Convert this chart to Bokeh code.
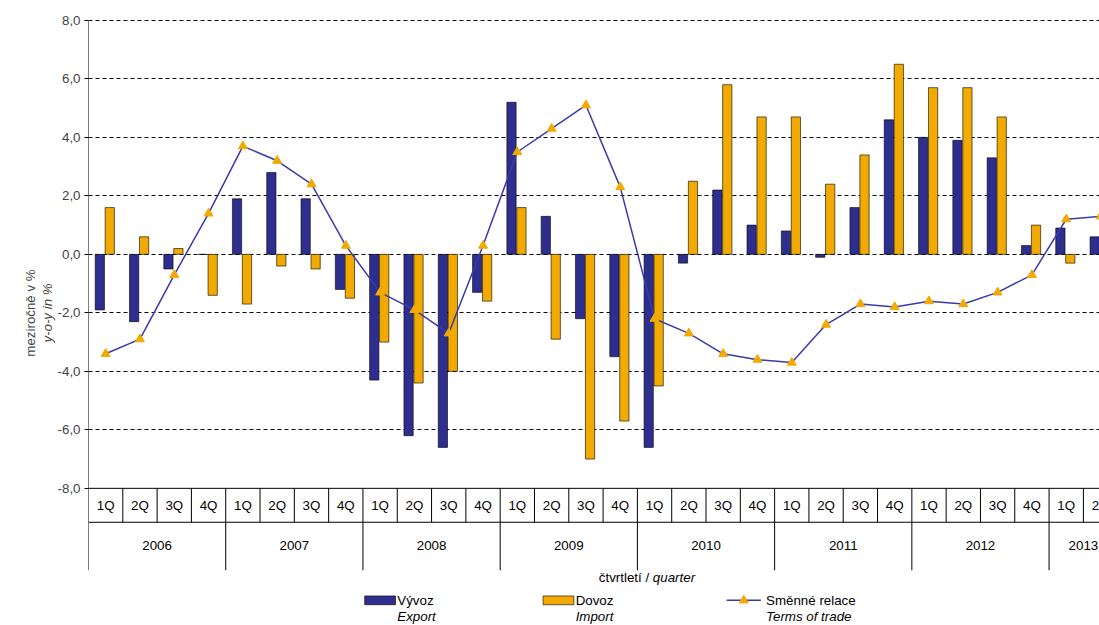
from bokeh.plotting import figure
from bokeh.models import FixedTicker, CustomJSTickFormatter, Title
from bokeh.core.properties import value
from bokeh.embed import file_html
from bokeh.resources import INLINE

years = ["2006", "2007", "2008", "2009", "2010", "2011", "2012", "2013"]
quarters = ["1Q", "2Q", "3Q", "4Q"]
export = [-1.9, -2.3, -0.5, 0.0, 1.9, 2.8, 1.9, -1.2, -4.3, -6.2, -6.6, -1.3,
          5.2, 1.3, -2.2, -3.5, -6.6, -0.3, 2.2, 1.0, 0.8, -0.1, 1.6, 4.6,
          4.0, 3.9, 3.3, 0.3, 0.9, 0.6]
imports = [1.6, 0.6, 0.2, -1.4, -1.7, -0.4, -0.5, -1.5, -3.0, -4.4, -4.0, -1.6,
           1.6, -2.9, -7.0, -5.7, -4.5, 2.5, 5.8, 4.7, 4.7, 2.4, 3.4, 6.5,
           5.7, 5.7, 4.7, 1.0, -0.3, -0.7]
terms = [-3.4, -2.9, -0.7, 1.4, 3.7, 3.2, 2.4, 0.3, -1.3, -1.9, -2.7, 0.3,
         3.5, 4.3, 5.1, 2.3, -2.2, -2.7, -3.4, -3.6, -3.7, -2.4, -1.7, -1.8,
         -1.6, -1.7, -1.3, -0.7, 1.2, 1.3]

NAVY = "#2E2E8F"
ORANGE = "#F2A900"
LINE = "#3A3AAA"
FONT = "Liberation Sans"
FS = "10pt"

n = len(export)
xs = [i + 0.5 for i in range(n)]
XMAX = 29.47

p = figure(width=1099, height=625, x_range=(0, XMAX), y_range=(-12.69, 8.68),
           output_backend="svg", toolbar_location=None, min_border=0,
           min_border_left=88, min_border_right=0, min_border_top=0, min_border_bottom=0)
p.outline_line_color = None
p.xaxis.visible = False
p.xgrid.visible = False
p.yaxis.ticker = FixedTicker(ticks=list(range(-8, 9, 2)))
p.yaxis.formatter = CustomJSTickFormatter(code="return tick.toFixed(1).replace('.', ',');")
p.yaxis.axis_line_color = None
p.yaxis.major_tick_line_color = "black"
p.yaxis.major_tick_in = 0
p.yaxis.major_tick_out = 4
p.yaxis.major_label_standoff = 4
p.yaxis.minor_tick_line_color = None
p.yaxis.major_label_text_font = FONT
p.yaxis.major_label_text_font_size = FS
p.ygrid.ticker = FixedTicker(ticks=list(range(-6, 9, 2)))
p.ygrid.grid_line_color = "black"
p.ygrid.grid_line_dash = "4 3"
p.add_layout(Title(text="y-o-y in %", text_font_style="italic", text_font=FONT,
                   text_font_size=FS, align="center", standoff=0), "left")
p.add_layout(Title(text="meziročně v %", text_font_style="normal", text_font=FONT,
                   text_font_size=FS, align="center", standoff=0), "left")

# bars
p.vbar(x=[x - 0.17 for x in xs], top=export, width=0.27, fill_color=NAVY,
       line_color="black", line_width=0.6)
p.vbar(x=[x + 0.12 for x in xs], top=imports, width=0.27, fill_color=ORANGE,
       line_color="black", line_width=0.6)
p.line(xs, terms, line_color=LINE, line_width=1.5)
p.scatter(xs, terms, marker="triangle", size=9, fill_color=ORANGE, line_color=ORANGE)

# axis lines
p.segment(x0=[0], y0=[-10.8], x1=[0], y1=[8], line_color="black", line_width=1)
p.segment(x0=[0, 0], y0=[-8, -9.16], x1=[XMAX, XMAX], y1=[-8, -9.16],
          line_color="black", line_width=1)
qsep = [i for i in range(1, n + 1) if i % 4 != 0]
p.segment(x0=qsep, y0=[-8] * len(qsep), x1=qsep, y1=[-9.16] * len(qsep),
          line_color="black", line_width=1)
ysep = [i for i in range(4, n + 1, 4)]
p.segment(x0=ysep, y0=[-8] * len(ysep), x1=ysep, y1=[-10.8] * len(ysep),
          line_color="black", line_width=1)

# category labels
p.text(x=xs, y=[-8.58] * n, text=[quarters[i % 4] for i in range(n)],
       text_align="center", text_baseline="middle", text_font=value(FONT),
       text_font_size=FS)
p.text(x=[4 * i + 2 for i in range(len(years) - 1)] + [29.0], y=[-9.95] * len(years),
       text=years, text_align="center", text_baseline="middle",
       text_font=value(FONT), text_font_size=FS)
p.text(x=[16.45], y=[-11.05], text=["čtvrtletí / "], text_align="right",
       text_baseline="middle", text_font=value(FONT), text_font_size=FS)
p.text(x=[16.45], y=[-11.05], text=["quarter"], text_align="left",
       text_baseline="middle", text_font=value(FONT), text_font_size=FS,
       text_font_style="italic")

# legend
p.rect(x=[8.5, 13.7], y=[-11.83, -11.83], width=0.9, height=0.3,
       fill_color=[NAVY, ORANGE], line_color="black", line_width=0.6)
p.segment(x0=[18.6], y0=[-11.83], x1=[19.6], y1=[-11.83], line_color=LINE, line_width=1.5)
p.scatter([19.1], [-11.83], marker="triangle", size=9, fill_color=ORANGE, line_color=ORANGE)
p.text(x=[9.0, 14.2, 19.75], y=[-11.83] * 3, text=["Vývoz", "Dovoz", "Směnné relace"],
       text_baseline="middle", text_font=value(FONT), text_font_size=FS)
p.text(x=[9.0, 14.2, 19.75], y=[-12.38] * 3, text=["Export", "Import", "Terms of trade"],
       text_baseline="middle", text_font=value(FONT), text_font_size=FS,
       text_font_style="italic")

open("out.html", "w").write(file_html(p, INLINE))
